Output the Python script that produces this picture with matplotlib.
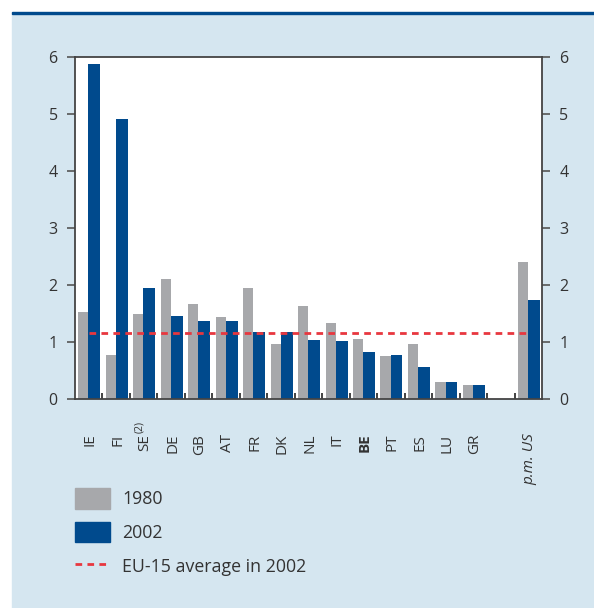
import matplotlib
matplotlib.use('Agg')
import matplotlib.pyplot as plt
from matplotlib.patches import Rectangle, Patch
from matplotlib.lines import Line2D

plt.rcParams['font.family'] = ['Open Sans', 'DejaVu Sans']

# data
countries = ['IE', 'FI', 'SE', 'DE', 'GB', 'AT', 'FR', 'DK', 'NL',
             'IT', 'BE', 'PT', 'ES', 'LU', 'GR', '', 'p.m. US']
v1980 = [1.52, 0.78, 1.50, 2.10, 1.66, 1.43, 1.94, 0.96, 1.63,
         1.33, 1.05, 0.76, 0.96, 0.29, 0.24, None, 2.40]
v2002 = [5.88, 4.91, 1.94, 1.45, 1.36, 1.36, 1.17, 1.17, 1.03,
         1.01, 0.82, 0.78, 0.57, 0.29, 0.24, None, 1.74]
eu15_avg = 1.15
yticks = [0, 1, 2, 3, 4, 5, 6]

grey = '#a7a8ab'
blue = '#004a8d'
red = '#e8373f'
panel = '#d5e6f0'
ink = '#333333'

fig = plt.figure(figsize=(5.94, 6.08), dpi=100)
fig.patch.set_facecolor('white')
W, H = 594.0, 608.0
# light blue panel and dark blue rule on top
fig.patches.append(Rectangle((12 / W, 0), 1 - 12 / W, 1 - 14 / H,
                             transform=fig.transFigure, color=panel,
                             zorder=-10))
fig.patches.append(Rectangle((12 / W, 1 - 14 / H), 1 - 12 / W, 2 / H,
                             transform=fig.transFigure, color=blue,
                             zorder=-10))

ax = fig.add_axes([75 / W, 1 - 399 / H, 467 / W, 342 / H])
ax.set_zorder(1)
ax.set_facecolor('white')

for i in range(len(countries)):
    if v1980[i] is not None:
        ax.bar(i + 0.12, v1980[i], width=0.37, align='edge', color=grey,
               zorder=2)
    if v2002[i] is not None:
        ax.bar(i + 0.49, v2002[i], width=0.43, align='edge', color=blue,
               zorder=2)

ax.hlines(eu15_avg, 0.5, len(countries) - 0.45, colors=red, linewidth=2.0,
          linestyles=(0, (2.4, 1.9)), zorder=3)

ax.set_xlim(0, len(countries))
ax.set_ylim(0, 6)
ax.set_yticks(yticks)
ax.tick_params(axis='y', which='both', direction='out', length=5.5, width=1.2,
               color='#555555', labelsize=11.5, labelcolor=ink, pad=7,
               left=True, right=True, labelleft=True, labelright=True)

ax.set_xticks([i + 0.55 for i in range(len(countries))])
ax.set_xticklabels(countries, rotation=90, fontsize=11, color=ink,
                   va='top', ha='center')
ax.tick_params(axis='x', which='major', length=0, pad=25)
ax.set_xticks(range(1, len(countries)), minor=True)
ax.tick_params(axis='x', which='minor', direction='in', length=4, width=1.2,
               color='#222222')
for lab in ax.get_xticklabels():
    if lab.get_text() == 'BE':
        lab.set_fontweight('bold')
    if lab.get_text().startswith('p.m.'):
        lab.set_fontstyle('italic')
# footnote mark above SE
ax.text(2.35, -(433 - 399) / 342, '(2)', transform=ax.get_xaxis_transform(),
        rotation=90, fontsize=7.5, color=ink, ha='center', va='bottom')

for side in ['left', 'right', 'top', 'bottom']:
    ax.spines[side].set_color('#444444')
    ax.spines[side].set_linewidth(1.3)

handles = [Patch(color=grey, label='1980'),
           Patch(color=blue, label='2002'),
           Line2D([], [], color=red, linewidth=2.0, linestyle=(0, (2.4, 1.9)),
                  label='EU-15 average in 2002')]
leg = fig.legend(handles=handles, loc='upper left',
                 bbox_to_anchor=(75 / W, 1 - 488 / H), frameon=False,
                 fontsize=12.8, handlelength=1.97, handleheight=1.4,
                 labelspacing=0.75, handletextpad=0.7, borderpad=0,
                 borderaxespad=0)
for t in leg.get_texts():
    t.set_color(ink)

fig.savefig('out.png', dpi=100, facecolor=fig.get_facecolor())
